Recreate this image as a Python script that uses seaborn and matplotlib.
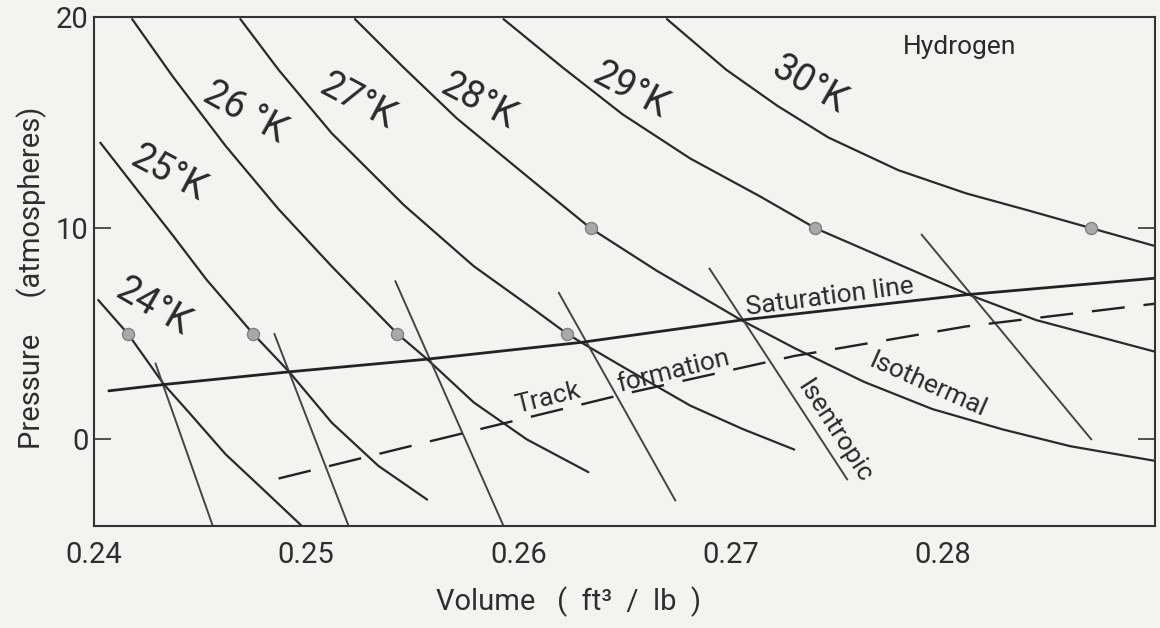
import matplotlib
matplotlib.use("Agg")
import matplotlib.pyplot as plt
import seaborn as sns
import pandas as pd

# ---------------- data ----------------
iso24_v = [0.2402, 0.2416, 0.2433, 0.2445, 0.2462, 0.2479, 0.2498]
iso24_p = [6.6, 5.0, 2.6, 1.25, -0.7, -2.3, -4.1]

iso25_v = [0.2403, 0.2420, 0.2437, 0.2453, 0.2475, 0.2492, 0.2512, 0.2534, 0.2557]
iso25_p = [14.05, 11.86, 9.68, 7.57, 5.0, 3.2, 0.8, -1.25, -2.85]

iso26_v = [0.2418, 0.2437, 0.2462, 0.2487, 0.2512, 0.2543, 0.2557, 0.2579, 0.2604, 0.2633]
iso26_p = [19.9, 17.2, 13.9, 10.9, 8.2, 5.0, 3.8, 1.75, 0.0, -1.55]

iso27_v = [0.2469, 0.2487, 0.2512, 0.2546, 0.2579, 0.2604, 0.2623, 0.2630, 0.2649,
           0.2681, 0.2706, 0.2730]
iso27_p = [19.9, 17.5, 14.5, 11.1, 8.2, 6.4, 5.0, 4.57, 3.45, 1.6, 0.48, -0.48]

iso28_v = [0.2523, 0.2546, 0.2571, 0.2603, 0.2634, 0.2665, 0.2705, 0.2730, 0.2763,
           0.2795, 0.2828, 0.2860, 0.2902]
iso28_p = [19.9, 17.6, 15.2, 12.55, 10.0, 8.0, 5.65, 4.33, 2.72, 1.44, 0.48, -0.32, -1.05]

iso29_v = [0.2593, 0.2621, 0.2649, 0.2681, 0.2714, 0.2740, 0.2779, 0.2811, 0.2844, 0.2902]
iso29_p = [19.9, 17.6, 15.4, 13.3, 11.5, 10.0, 8.3, 6.9, 5.65, 4.1]

iso30_v = [0.2670, 0.2698, 0.2722, 0.2746, 0.2779, 0.2811, 0.2840, 0.2870, 0.2902]
iso30_p = [19.9, 17.5, 15.8, 14.3, 12.75, 11.65, 10.85, 10.0, 9.1]

isotherm_names = ["24°K", "25°K", "26 °K", "27°K", "28°K", "29°K", "30°K"]

# isentropic lines
isen1_v = [0.2429, 0.2456]; isen1_p = [3.6, -4.1]
isen2_v = [0.2485, 0.2520]; isen2_p = [5.0, -4.1]
isen3_v = [0.2542, 0.2593]; isen3_p = [7.5, -4.1]
isen4_v = [0.2619, 0.2674]; isen4_p = [6.95, -2.9]
isen5_v = [0.2690, 0.2755]; isen5_p = [8.1, -1.9]
isen6_v = [0.2790, 0.2870]; isen6_p = [9.7, 0.0]

# saturation line
sat_v = [0.2407, 0.2433, 0.2492, 0.2557, 0.2630, 0.2705, 0.2811, 0.2902]
sat_p = [2.3, 2.6, 3.2, 3.8, 4.6, 5.65, 6.85, 7.65]

# track formation (dashed)
track_v = [0.2487, 0.2562, 0.2652, 0.2730, 0.2811, 0.2902]
track_p = [-1.85, 0.0, 2.2, 3.95, 5.35, 6.45]

# marked points on isotherms
dot_v = [0.2416, 0.2475, 0.2543, 0.2623, 0.2634, 0.2740, 0.2870]
dot_p = [5, 5, 5, 5, 10, 10, 10]

x_ticks = [0.24, 0.25, 0.26, 0.27, 0.28]
x_ticklabels = ["0.24", "0.25", "0.26", "0.27", "0.28"]
y_ticks = [0, 10, 20]
y_ticklabels = ["0", "10", "20"]

# ---------------- build tables ----------------
def long(name, v, p):
    return pd.DataFrame({"curve": name, "v": v, "p": p})

iso_df = pd.concat([
    long(n, v, p) for n, v, p in zip(
        isotherm_names,
        [iso24_v, iso25_v, iso26_v, iso27_v, iso28_v, iso29_v, iso30_v],
        [iso24_p, iso25_p, iso26_p, iso27_p, iso28_p, iso29_p, iso30_p])
], ignore_index=True)

isen_df = pd.concat([
    long(f"s{i}", v, p) for i, (v, p) in enumerate(zip(
        [isen1_v, isen2_v, isen3_v, isen4_v, isen5_v, isen6_v],
        [isen1_p, isen2_p, isen3_p, isen4_p, isen5_p, isen6_p]))
], ignore_index=True)

sat_df = long("sat", sat_v, sat_p)
track_df = long("track", track_v, track_p)
dot_df = pd.DataFrame({"v": dot_v, "p": dot_p})

# ---------------- plot ----------------
sns.set_theme(style="white")
plt.rcParams["font.family"] = ["Roboto", "DejaVu Sans"]

bg = "#f3f3f1"
ink = "#2a2a2a"
tcol = "#2e2e2e"
fig = plt.figure(figsize=(11.6, 6.28), dpi=100, facecolor=bg)
ax = fig.add_axes([0.081, 0.1624, 0.9147, 0.8105])
ax.set_facecolor(bg)

sns.lineplot(data=iso_df, x="v", y="p", units="curve", estimator=None, sort=False,
             color=ink, lw=1.6, ax=ax)
sns.lineplot(data=isen_df, x="v", y="p", units="curve", estimator=None, sort=False,
             color="#444444", lw=1.4, ax=ax)
sns.lineplot(data=sat_df, x="v", y="p", estimator=None, sort=False,
             color="#222222", lw=2.0, ax=ax)
sns.lineplot(data=track_df, x="v", y="p", estimator=None, sort=False,
             color="#222222", lw=1.7, ax=ax)
ax.lines[-1].set_dashes([14, 8])
sns.scatterplot(data=dot_df, x="v", y="p", s=75, color="#a9a9a9",
                edgecolor="#808080", linewidth=1.0, ax=ax, zorder=5)

ax.set_xlim(0.24, 0.29)
ax.set_ylim(-4.1, 20)

ax.set_xticks(x_ticks)
ax.set_xticklabels(x_ticklabels)
ax.set_yticks(y_ticks)
ax.set_yticklabels(y_ticklabels)
ax.tick_params(axis="both", direction="in", length=12, width=1.2, color="#333333",
               labelsize=21, labelcolor=tcol)
ax.tick_params(axis="x", pad=11)
ax.tick_params(axis="y", pad=4, right=True, left=True)

for s in ax.spines.values():
    s.set_visible(True)
    s.set_color("#333333")
    s.set_linewidth(1.5)

ax.set_xlabel("Volume   (  ft³  /  lb  )", fontsize=21, color=tcol)
ax.xaxis.set_label_coords(0.447, -0.118)
ax.set_ylabel("Pressure     (atmospheres)", fontsize=21, color=tcol)
ax.yaxis.set_label_coords(-0.044, 0.487)

# ---------------- annotations ----------------
txt = dict(color=ink, ha="center", va="center", rotation_mode="anchor")
ax.text(0.2428, 6.3, "24°K", fontsize=27, rotation=-30, **txt)
ax.text(0.2435, 12.6, "25°K", fontsize=27, rotation=-28, **txt)
ax.text(0.2471, 15.5, "26 °K", fontsize=27, rotation=-29, **txt)
ax.text(0.2524, 16.0, "27°K", fontsize=27, rotation=-28, **txt)
ax.text(0.2581, 16.0, "28°K", fontsize=27, rotation=-28, **txt)
ax.text(0.2653, 16.5, "29°K", fontsize=27, rotation=-28, **txt)
ax.text(0.2737, 16.8, "30°K", fontsize=27, rotation=-30, **txt)
ax.text(0.2808, 18.6, "Hydrogen", fontsize=19, rotation=0, **txt)
ax.text(0.2747, 6.75, "Saturation line", fontsize=19, rotation=7.5, **txt)
ax.text(0.2614, 1.95, "Track", fontsize=19, rotation=14, **txt)
ax.text(0.2673, 3.22, "formation", fontsize=19, rotation=14, **txt)
ax.text(0.2749, 0.37, "Isentropic", fontsize=19, rotation=-57, **txt)
ax.text(0.2793, 2.56, "Isothermal", fontsize=19, rotation=-24, **txt)

fig.savefig("out.png", dpi=100, facecolor=bg)
